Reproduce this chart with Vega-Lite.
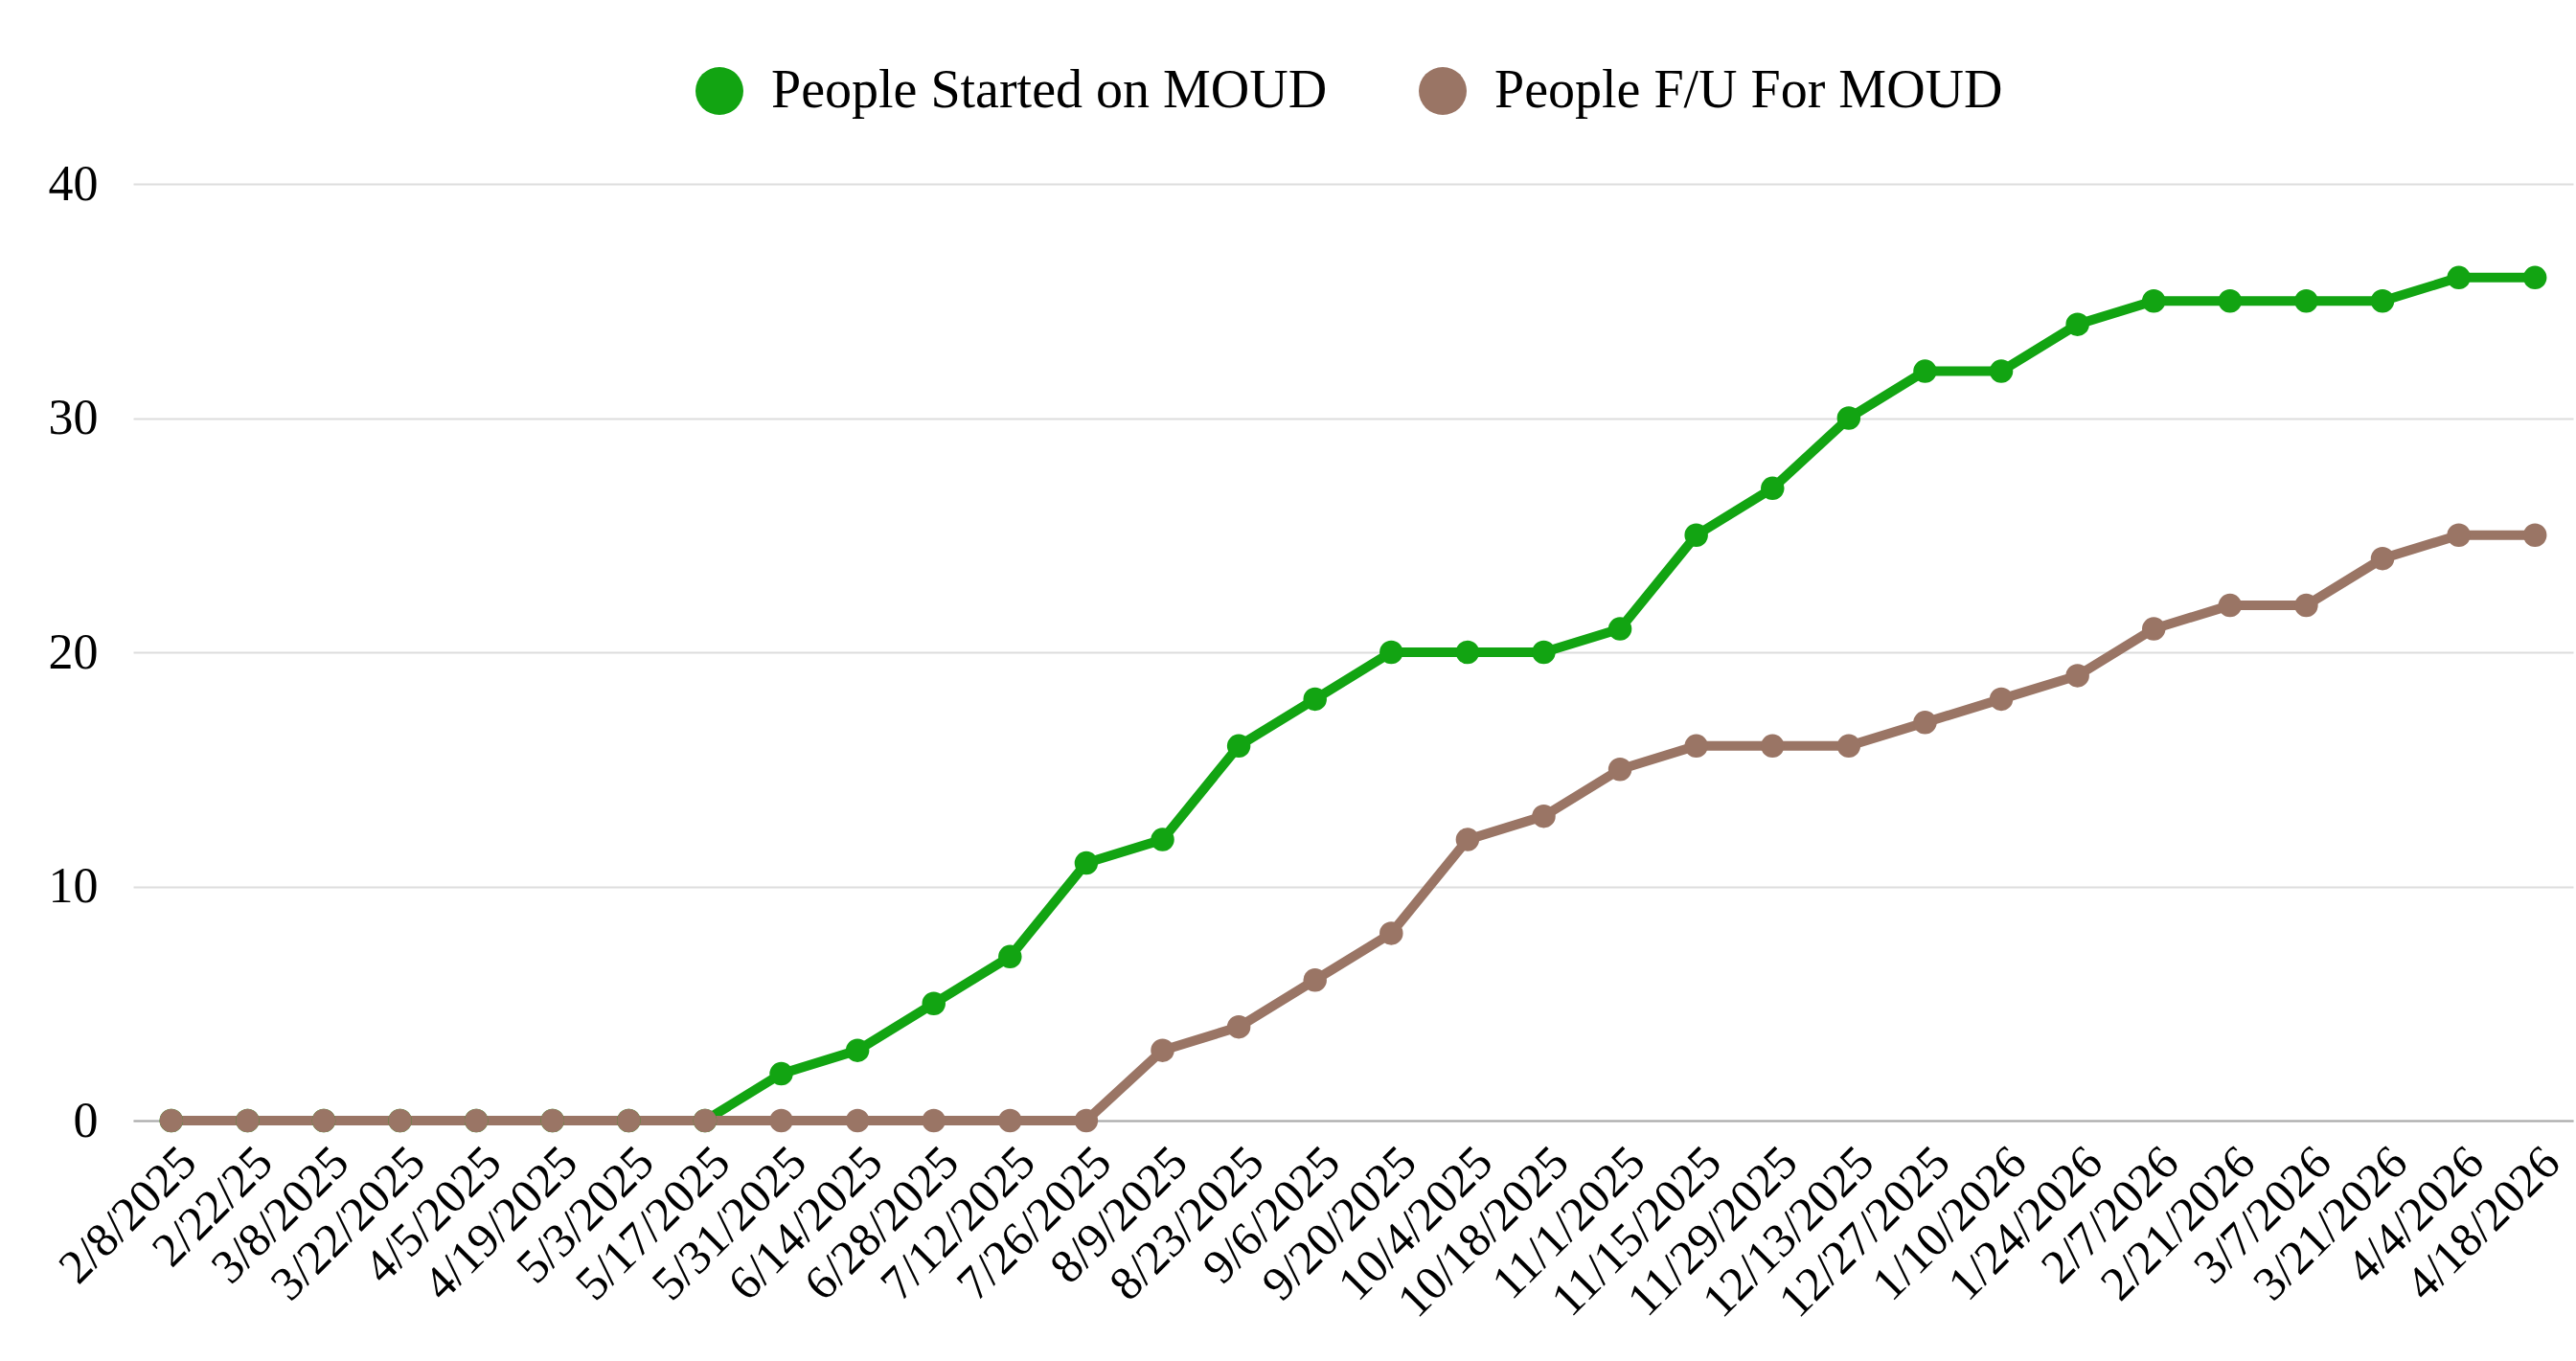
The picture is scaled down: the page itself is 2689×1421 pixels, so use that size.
{
  "$schema": "https://vega.github.io/schema/vega-lite/v6.json",
  "autosize": "none",
  "width": 2547,
  "height": 978,
  "padding": {"left": 139, "top": 192, "right": 3, "bottom": 251},
  "background": "white",
  "config": {"font": "Liberation Serif", "view": {"stroke": null}},
  "datasets": {
    "d": [
      {"date": "2/8/2025", "series": "People Started on MOUD", "value": 0},
      {"date": "2/22/25", "series": "People Started on MOUD", "value": 0},
      {"date": "3/8/2025", "series": "People Started on MOUD", "value": 0},
      {"date": "3/22/2025", "series": "People Started on MOUD", "value": 0},
      {"date": "4/5/2025", "series": "People Started on MOUD", "value": 0},
      {"date": "4/19/2025", "series": "People Started on MOUD", "value": 0},
      {"date": "5/3/2025", "series": "People Started on MOUD", "value": 0},
      {"date": "5/17/2025", "series": "People Started on MOUD", "value": 0},
      {"date": "5/31/2025", "series": "People Started on MOUD", "value": 2},
      {"date": "6/14/2025", "series": "People Started on MOUD", "value": 3},
      {"date": "6/28/2025", "series": "People Started on MOUD", "value": 5},
      {"date": "7/12/2025", "series": "People Started on MOUD", "value": 7},
      {"date": "7/26/2025", "series": "People Started on MOUD", "value": 11},
      {"date": "8/9/2025", "series": "People Started on MOUD", "value": 12},
      {"date": "8/23/2025", "series": "People Started on MOUD", "value": 16},
      {"date": "9/6/2025", "series": "People Started on MOUD", "value": 18},
      {"date": "9/20/2025", "series": "People Started on MOUD", "value": 20},
      {"date": "10/4/2025", "series": "People Started on MOUD", "value": 20},
      {"date": "10/18/2025", "series": "People Started on MOUD", "value": 20},
      {"date": "11/1/2025", "series": "People Started on MOUD", "value": 21},
      {"date": "11/15/2025", "series": "People Started on MOUD", "value": 25},
      {"date": "11/29/2025", "series": "People Started on MOUD", "value": 27},
      {"date": "12/13/2025", "series": "People Started on MOUD", "value": 30},
      {"date": "12/27/2025", "series": "People Started on MOUD", "value": 32},
      {"date": "1/10/2026", "series": "People Started on MOUD", "value": 32},
      {"date": "1/24/2026", "series": "People Started on MOUD", "value": 34},
      {"date": "2/7/2026", "series": "People Started on MOUD", "value": 35},
      {"date": "2/21/2026", "series": "People Started on MOUD", "value": 35},
      {"date": "3/7/2026", "series": "People Started on MOUD", "value": 35},
      {"date": "3/21/2026", "series": "People Started on MOUD", "value": 35},
      {"date": "4/4/2026", "series": "People Started on MOUD", "value": 36},
      {"date": "4/18/2026", "series": "People Started on MOUD", "value": 36},
      {"date": "2/8/2025", "series": "People F/U For MOUD", "value": 0},
      {"date": "2/22/25", "series": "People F/U For MOUD", "value": 0},
      {"date": "3/8/2025", "series": "People F/U For MOUD", "value": 0},
      {"date": "3/22/2025", "series": "People F/U For MOUD", "value": 0},
      {"date": "4/5/2025", "series": "People F/U For MOUD", "value": 0},
      {"date": "4/19/2025", "series": "People F/U For MOUD", "value": 0},
      {"date": "5/3/2025", "series": "People F/U For MOUD", "value": 0},
      {"date": "5/17/2025", "series": "People F/U For MOUD", "value": 0},
      {"date": "5/31/2025", "series": "People F/U For MOUD", "value": 0},
      {"date": "6/14/2025", "series": "People F/U For MOUD", "value": 0},
      {"date": "6/28/2025", "series": "People F/U For MOUD", "value": 0},
      {"date": "7/12/2025", "series": "People F/U For MOUD", "value": 0},
      {"date": "7/26/2025", "series": "People F/U For MOUD", "value": 0},
      {"date": "8/9/2025", "series": "People F/U For MOUD", "value": 3},
      {"date": "8/23/2025", "series": "People F/U For MOUD", "value": 4},
      {"date": "9/6/2025", "series": "People F/U For MOUD", "value": 6},
      {"date": "9/20/2025", "series": "People F/U For MOUD", "value": 8},
      {"date": "10/4/2025", "series": "People F/U For MOUD", "value": 12},
      {"date": "10/18/2025", "series": "People F/U For MOUD", "value": 13},
      {"date": "11/1/2025", "series": "People F/U For MOUD", "value": 15},
      {"date": "11/15/2025", "series": "People F/U For MOUD", "value": 16},
      {"date": "11/29/2025", "series": "People F/U For MOUD", "value": 16},
      {"date": "12/13/2025", "series": "People F/U For MOUD", "value": 16},
      {"date": "12/27/2025", "series": "People F/U For MOUD", "value": 17},
      {"date": "1/10/2026", "series": "People F/U For MOUD", "value": 18},
      {"date": "1/24/2026", "series": "People F/U For MOUD", "value": 19},
      {"date": "2/7/2026", "series": "People F/U For MOUD", "value": 21},
      {"date": "2/21/2026", "series": "People F/U For MOUD", "value": 22},
      {"date": "3/7/2026", "series": "People F/U For MOUD", "value": 22},
      {"date": "3/21/2026", "series": "People F/U For MOUD", "value": 24},
      {"date": "4/4/2026", "series": "People F/U For MOUD", "value": 25},
      {"date": "4/18/2026", "series": "People F/U For MOUD", "value": 25}
    ]
  },
  "data": {"name": "d"},
  "mark": {"type": "line", "strokeWidth": 10, "point": {"filled": true, "size": 600, "opacity": 1}},
  "encoding": {
    "x": {
      "field": "date",
      "type": "ordinal",
      "sort": null,
      "axis": {
        "title": null,
        "labelAngle": -45,
        "labelFontSize": 50,
        "labelColor": "black",
        "labelLimit": 0,
        "labelOverlap": false,
        "ticks": false,
        "domainColor": "#aaaaaa",
        "domainWidth": 2,
        "labelPadding": 18
      }
    },
    "y": {
      "field": "value",
      "type": "quantitative",
      "scale": {"domain": [0, 40], "nice": false},
      "axis": {
        "title": null,
        "values": [0, 10, 20, 30, 40],
        "domain": false,
        "ticks": false,
        "gridColor": "#dddddd",
        "gridWidth": 2,
        "labelFontSize": 52,
        "labelColor": "black",
        "labelPadding": 37
      }
    },
    "color": {
      "field": "series",
      "type": "nominal",
      "scale": {
        "domain": ["People Started on MOUD", "People F/U For MOUD"],
        "range": ["#12a412", "#9a7565"]
      },
      "legend": {
        "title": null,
        "orient": "none",
        "legendX": 584,
        "legendY": -125,
        "direction": "horizontal",
        "symbolType": "circle",
        "symbolSize": 2500,
        "symbolStrokeWidth": 0,
        "labelFontSize": 56,
        "labelColor": "black",
        "labelLimit": 0,
        "labelOffset": 26,
        "columnPadding": 92,
        "encode": {"symbols": {"update": {"fill": {"scale": "color", "field": "value"}, "fillOpacity": {"value": 1}}}}
      }
    }
  }
}
